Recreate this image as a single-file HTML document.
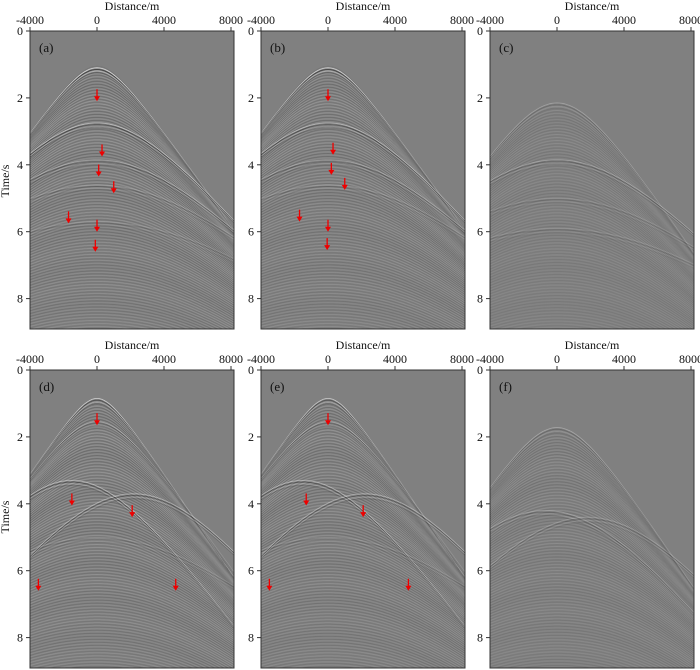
<!DOCTYPE html>
<html><head><meta charset="utf-8"><style>
body{margin:0;background:#fff;}
svg{display:block;font-family:"Liberation Serif","Times New Roman",serif;}
</style></head><body>
<svg id="fig" width="700" height="670" viewBox="0 0 700 670" xmlns="http://www.w3.org/2000/svg"></svg>
<script>
const xTicks = [-4000, 0, 4000, 8000];
const yTicks = [0, 2, 4, 6, 8];
const panelLabels = ['(a)','(b)','(c)','(d)','(e)','(f)'];
const panelLeft = [30, 261, 490, 30, 261, 490];
const panelTop = [31, 31, 31, 370, 370, 370];
// cone families: apex x, apex t, velocity, texture strength
const coneX = [0, 0, 0, 0, 0, 0];
const coneT = [1.05, 1.05, 2.15, 0.85, 0.85, 1.72];
const coneV = [1400, 1400, 1300, 1330, 1330, 1300];
const coneAmp = [0.22, 0.2, 0.12, 0.22, 0.2, 0.15];
// events per panel: [x0, t0, v, amplitude]
const eventsA = [[0,1.1,1400,0.6],[0,2.75,1650,0.5],[0,3.85,1800,0.35],[0,4.6,2000,0.2],[0,5.7,2200,0.15]];
const eventsB = [[0,1.1,1400,0.55],[0,2.75,1650,0.45],[0,3.85,1800,0.3],[0,4.6,2000,0.18]];
const eventsC = [[0,2.15,1300,0.3],[0,3.85,1750,0.28],[0,5.0,2000,0.15],[0,5.9,2200,0.15]];
const eventsD = [[0,0.85,1330,0.65],[0,1.55,1400,0.3],[-1500,3.3,1400,0.45],[2200,3.7,1500,0.4],[0,5.0,2000,0.15]];
const eventsE = [[0,0.85,1330,0.6],[0,1.55,1400,0.3],[-1500,3.3,1400,0.42],[2200,3.7,1500,0.38],[0,5.0,2000,0.15]];
const eventsF = [[0,1.72,1300,0.35],[-700,4.2,1500,0.25],[1800,4.4,1500,0.22]];
const panelEvents = [eventsA, eventsB, eventsC, eventsD, eventsE, eventsF];
// arrows per panel: [x, t] (tip)
const arrowsA = [[0,2.1],[300,3.75],[100,4.35],[1000,4.85],[-1700,5.75],[0,6.0],[-100,6.6]];
const arrowsB = [[0,2.1],[300,3.7],[200,4.3],[1000,4.75],[-1700,5.7],[0,6.0],[-50,6.55]];
const arrowsD = [[0,1.65],[-1500,4.05],[2100,4.4],[-3500,6.6],[4700,6.6]];
const arrowsE = [[0,1.65],[-1300,4.05],[2100,4.4],[-3500,6.6],[4800,6.6]];
const panelArrows = [arrowsA, arrowsB, [], arrowsD, arrowsE, []];

const NS = 'http://www.w3.org/2000/svg';
const svg = document.getElementById('fig');
const W = 204, H = 298, PXPERM = 67/4000, PXPERS = 33.45;
function mk(tag, attrs, parent){const e=document.createElementNS(NS,tag);for(const k in attrs)e.setAttribute(k,attrs[k]);(parent||svg).appendChild(e);return e;}
const defs = mk('defs',{});

panelLeft.forEach((L,i)=>{
  const T = panelTop[i];
  const sx = x => L + (x + 4000) * PXPERM;
  const sy = t => T + t * PXPERS;
  const g = mk('g',{});
  
  
  const cp = mk('clipPath',{id:'cp'+i},defs);
  mk('rect',{x:L,y:T,width:W,height:H},cp);
  mk('rect',{x:L,y:T,width:W,height:H,fill:'#808080'},g);
  const inner = mk('g',{'clip-path':'url(#cp'+i+')'},g);
  function hyp(x0,t0,v){let d='';for(let x=-4200;x<=8400;x+=150){const dx=(x-x0)/v;const t=Math.sqrt(t0*t0+dx*dx);if(t>9.5)continue;d+=(d?'L':'M')+sx(x).toFixed(1)+','+sy(t).toFixed(1);}return d;}
  let k=0;
  for(let t0=coneT[i]; t0<9.3; t0+=0.045, k++){
    const a = coneAmp[i]*(0.5+0.5*Math.abs(Math.sin(k*1.7)))*(1-0.4*(t0/9));
    mk('path',{d:hyp(coneX[i],t0,coneV[i]+ (t0-coneT[i])*60),fill:'none',stroke:k%2?'#fff':'#000','stroke-width':0.7,'stroke-opacity':a.toFixed(2)},inner);
  }
  panelEvents[i].forEach((ev,j)=>{
    for(let r=0;r<4;r++){
      const p = mk('path',{d:hyp(ev[0],ev[1]+r*0.05,ev[2]),fill:'none',stroke:r%2?'#000':'#fff','stroke-width':0.8,'stroke-opacity':(ev[3]*(1-r*0.2)).toFixed(2)},inner);
      
      
    }
  });
  mk('rect',{x:L,y:T,width:W,height:H,fill:'none',stroke:'#333','stroke-width':1},g);
  const lab = mk('text',{x:L+9,y:T+21,'font-size':13,fill:'#111'},g);
  lab.textContent = panelLabels[i];
  
  
  panelArrows[i].forEach(a=>{
    const ax=sx(a[0]), ay=sy(a[1]);
    const ar = mk('g',{},g);
    
    
    mk('line',{x1:ax,y1:ay-12,x2:ax,y2:ay-4,stroke:'#e00','stroke-width':1.3},ar);
    mk('path',{d:`M${ax-3},${ay-5}L${ax+3},${ay-5}L${ax},${ay}Z`,fill:'#e00'},ar);
  });
  const title = mk('text',{x:L+W/2,y:T-21,'text-anchor':'middle','font-size':12,fill:'#111'});
  title.textContent='Distance/m';
  
  
  xTicks.forEach(v=>{
    mk('line',{x1:sx(v),y1:T,x2:sx(v),y2:T-4,stroke:'#333'});
    const t=mk('text',{x:sx(v),y:T-7,'text-anchor':'middle','font-size':12,fill:'#111'});
    t.textContent=v;
    
    
  });
  yTicks.forEach(v=>{
    mk('line',{x1:L,y1:sy(v),x2:L-4,y2:sy(v),stroke:'#333'});
    const t=mk('text',{x:L-7,y:sy(v)+4,'text-anchor':'end','font-size':12,fill:'#111'});
    t.textContent=v;
    
    
  });
});
[181,517].forEach(cy=>{
  const t=mk('text',{x:9,y:cy,'text-anchor':'middle','font-size':12,fill:'#111',transform:`rotate(-90 9 ${cy})`});
  t.textContent='Time/s';
  
  
});
</script>
</body></html>
